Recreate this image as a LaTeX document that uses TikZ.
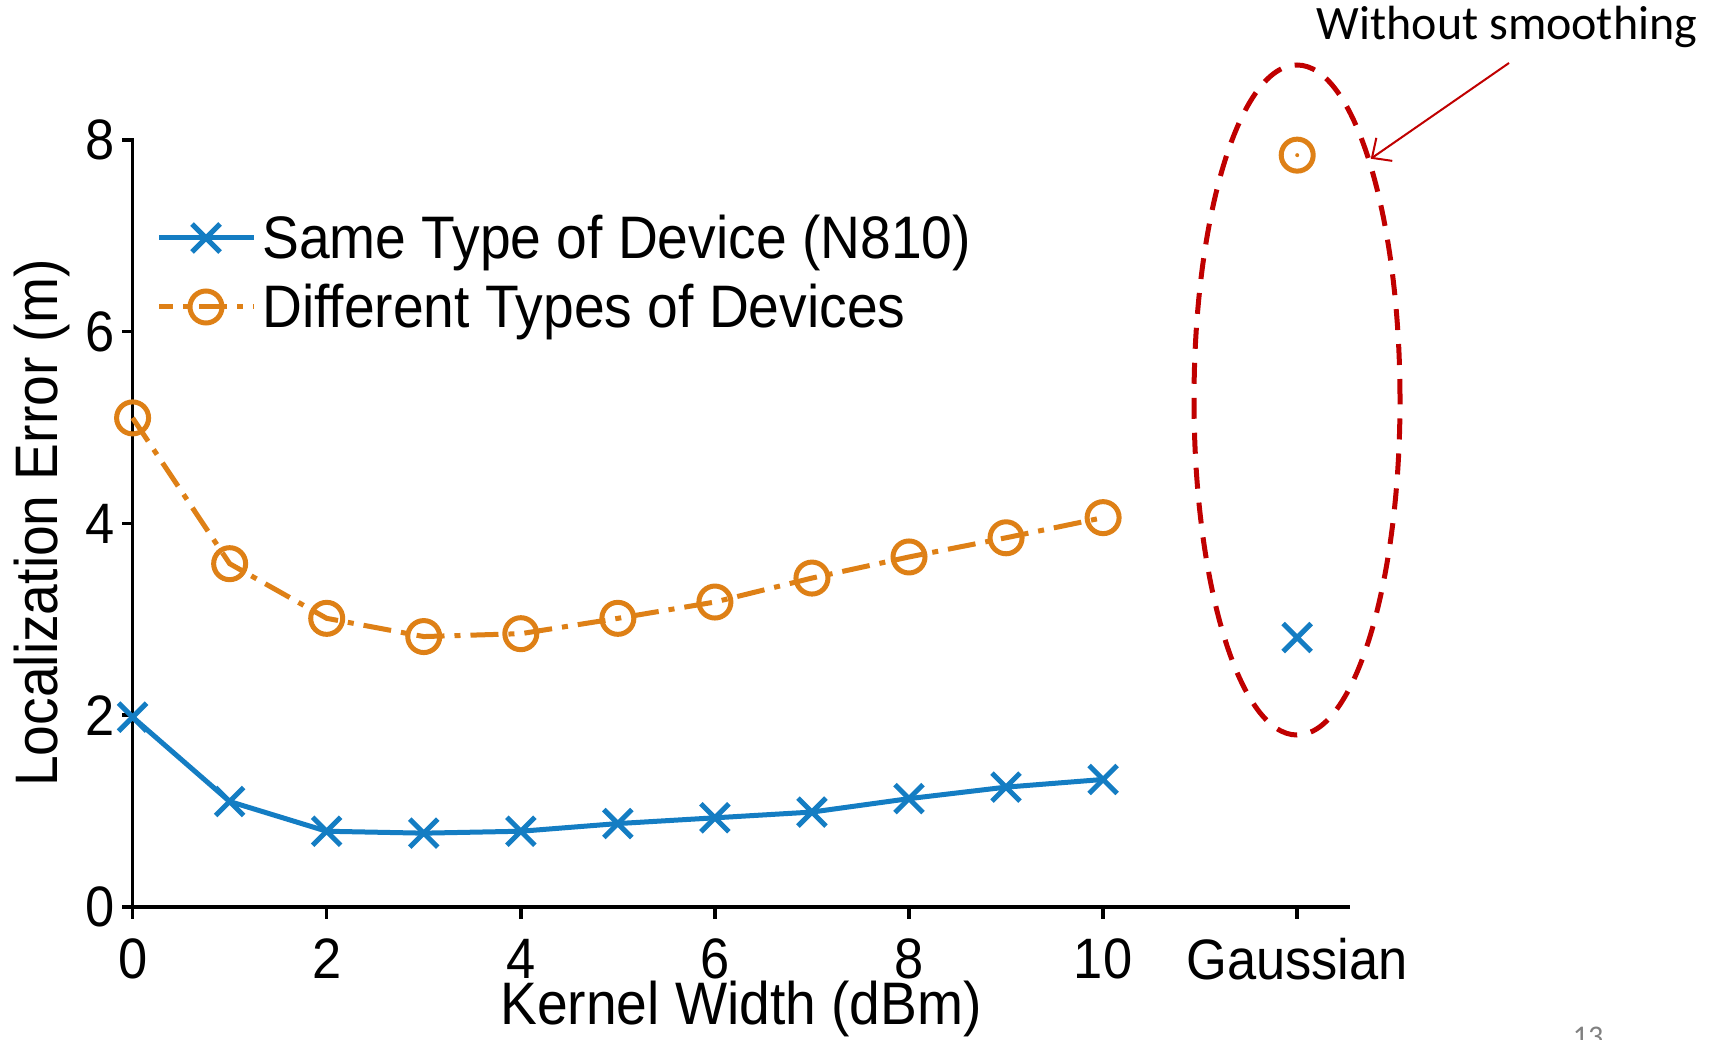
\documentclass[tikz,border=0pt]{standalone}
\usepackage{fontspec}
\setmainfont{Liberation Sans}[FakeStretch=0.92]
\newfontfamily\calfont{Carlito}
\usetikzlibrary{shapes.misc,shapes.geometric,arrows.meta}
\definecolor{pblue}{RGB}{20,125,195}
\definecolor{porange}{RGB}{222,128,22}
\definecolor{dred}{RGB}{192,0,0}
\begin{document}
\begin{tikzpicture}[x=1pt,y=-1pt,
  axisline/.style={line width=3.5pt, line cap=rect},
  tickline/.style={line width=3.5pt},
  ticklbl/.style={font=\fontsize{57}{57}\selectfont, inner sep=0pt},
  axlbl/.style={font=\fontsize{60}{60}\selectfont, inner sep=0pt},
  legtext/.style={font=\fontsize{60}{60}\selectfont, inner sep=0pt, anchor=base west},
  bluel/.style={draw=pblue, line width=5pt, line join=round},
  orl/.style={draw=porange, line width=5pt, dash pattern=on 28pt off 10pt on 6pt off 10pt},
  xm/.style={cross out, draw=pblue, line width=5pt, minimum size=23pt, inner sep=0pt},
  om/.style={circle, draw=porange, line width=5pt, minimum size=32pt, inner sep=0pt},
]
\useasboundingbox[fill=white] (0,0) rectangle (1718,1040);

% axes
\coordinate (O) at (132.6,907);
\coordinate (ytop) at (132.6,139.8);
\coordinate (xend) at (1348,907);
\draw[axisline] (ytop) -- (O) -- (xend);
\foreach \v in {0,2,4,6,8} {
  \coordinate (yt\v) at (132.6,{907-95.9*\v});
  \coordinate (ytl\v) at (122,{907-95.9*\v});
  \draw[tickline] (yt\v) -- (ytl\v);
  \node[ticklbl, anchor=east] (ylab\v) at (115,{907-95.9*\v}) {\v};
}
\foreach \v in {0,2,4,6,8,10} {
  \coordinate (xt\v) at ({132.6+97.05*\v},907);
  \coordinate (xtl\v) at ({132.6+97.05*\v},919);
  \draw[tickline] (xt\v) -- (xtl\v);
  \node[ticklbl] (xlab\v) at ({132.6+97.05*\v},959) {\v};
}
\coordinate (xtg) at (1297.2,907);
\coordinate (xtgl) at (1297.2,919);
\draw[tickline] (xtg) -- (xtgl);
\node[ticklbl] (xlabg) at (1297.2,959) {Gaussian};

\node[axlbl, anchor=base] (xaxlbl) at (741,1024) {Kernel Width (dBm)};
\node[axlbl, anchor=base, rotate=90] (yaxlbl) at (57,523) {Localization Error (m)};

% data
\foreach \v [count=\i from 0] in {1.98,1.10,0.79,0.77,0.79,0.87,0.93,0.99,1.13,1.25,1.33} {
  \coordinate (b\i) at ({132.6+97.05*\i},{907-95.9*\v});
}
\foreach \v [count=\i from 0] in {5.10,3.58,3.01,2.82,2.85,3.01,3.18,3.43,3.65,3.85,4.06} {
  \coordinate (o\i) at ({132.6+97.05*\i},{907-95.9*\v});
}
\coordinate (bg) at (1297.2,{907-95.9*2.81});
\coordinate (og) at (1297.2,{907-95.9*7.84});

\draw[orl] (o0) \foreach \i in {1,...,10} {-- (o\i)};
\draw[bluel] (b0) \foreach \i in {1,...,10} {-- (b\i)};
\foreach \i in {0,...,10} {
  \node[om] (om\i) at (o\i) {};
  \node[xm] (bm\i) at (b\i) {};
}
\node[om] (omg) at (og) {};
\fill[porange] (og) circle (2pt);
\node[xm] (bmg) at (bg) {};

% legend
\coordinate (l1a) at (159,238);
\coordinate (l1b) at (254,238);
\draw[bluel] (l1a) -- (l1b);
\node[xm] (l1m) at (206,238) {};
\node[legtext] (l1t) at (262,259) {Same Type of Device (N810)};
\coordinate (l2a) at (159,307);
\coordinate (l2b) at (254,307);
\draw[orl, dash phase=14pt] (l2a) -- (l2b);
\node[om] (l2m) at (206,307) {};
\node[legtext] (l2t) at (262,328) {Different Types of Devices};

% annotation
\node[draw=dred, ellipse, line width=5pt, dash pattern=on 21pt off 14pt,
      minimum width=206pt, minimum height=670pt, inner sep=0pt] (ell) at (1297,400) {};
\node[font=\calfont\fontsize{48}{48}\selectfont, inner sep=0pt, anchor=base] (ann) at (1507,40) {Without smoothing};
\coordinate (arrs) at (1509,63);
\draw[dred, line width=2pt, -{Straight Barb[length=15pt,width=28pt]}] (arrs) -- (ell.73);

% slide number
\node[font=\calfont\fontsize{30}{30}\selectfont, text=gray, inner sep=0pt, anchor=north] (pnum) at (1588,1027) {13};
\end{tikzpicture}
\end{document}
